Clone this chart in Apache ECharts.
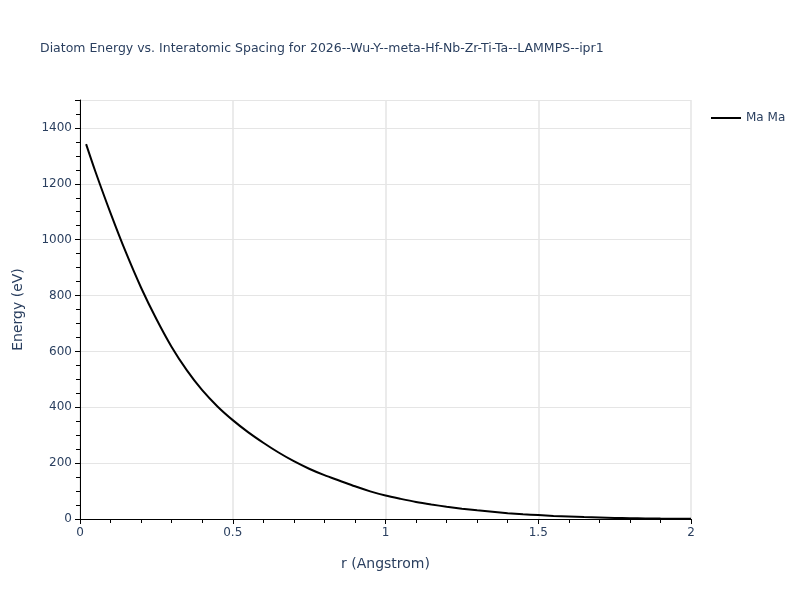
<!DOCTYPE html>
<html lang="en" style="width: 100%;height:100%">
    <head>
        <meta charset="UTF-8">
        <title>Diatom Energy</title>
        <script src="https://cdn.jsdelivr.net/npm/echarts@6/dist/echarts.min.js"></script>
    </head>
    <body style="width: 100%;height:100%;margin:0">
        <div id="chart" style="width: 800px;height:600px"></div>
        <script>
            // r values (Angstrom) and energies (eV)
            const rList = [0.02, 0.05, 0.1, 0.15, 0.2, 0.25, 0.3, 0.35, 0.4, 0.45,
                           0.5, 0.55, 0.6, 0.65, 0.7, 0.75, 0.8, 0.85, 0.9, 0.95,
                           1.0, 1.05, 1.1, 1.15, 1.2, 1.25, 1.3, 1.35, 1.4, 1.45,
                           1.5, 1.55, 1.6, 1.65, 1.7, 1.75, 1.8, 1.85, 1.9, 1.95, 2.0];
            const energyList = [1342, 1245, 1095, 955, 828, 716, 616, 532, 461, 403,
                                354, 311, 273, 238, 207, 180, 157, 137, 117, 99,
                                84, 72, 61, 52, 44, 37, 31, 26, 21, 17,
                                14, 11, 9, 7, 5.5, 4, 3, 2.2, 1.5, 1, 0.5];
            const seriesName = 'Ma Ma';

            const points = [];
            for (let i = 0; i < rList.length; i++) {
                points.push([rList[i], energyList[i]]);
            }

            const labelColor = '#2a3f5f';
            const font = '"DejaVu Sans", Verdana, sans-serif';

            const myChart = echarts.init(document.getElementById('chart'));

            const option = {
                backgroundColor: '#ffffff',
                title: {
                    text: 'Diatom Energy vs. Interatomic Spacing for 2026--Wu-Y--meta-Hf-Nb-Zr-Ti-Ta--LAMMPS--ipr1',
                    left: 35,
                    top: 37,
                    textStyle: {
                        fontSize: 12.5,
                        fontWeight: 'normal',
                        color: labelColor,
                        fontFamily: font
                    }
                },
                legend: {
                    data: [seriesName],
                    left: 706,
                    top: 107,
                    itemWidth: 30,
                    itemHeight: 2,
                    icon: 'rect',
                    itemGap: 5,
                    textStyle: {
                        fontSize: 12,
                        color: labelColor,
                        fontFamily: font
                    }
                },
                grid: {
                    left: 80,
                    right: 109,
                    top: 100,
                    bottom: 81
                },
                xAxis: {
                    type: 'value',
                    min: 0,
                    max: 2,
                    interval: 0.5,
                    name: 'r (Angstrom)',
                    nameLocation: 'middle',
                    nameGap: 38,
                    nameTextStyle: {
                        fontSize: 14,
                        color: labelColor,
                        fontFamily: font
                    },
                    axisLine: {
                        show: true,
                        onZero: false,
                        lineStyle: { color: '#000000', width: 1 }
                    },
                    axisTick: {
                        show: true,
                        length: 5,
                        lineStyle: { color: '#000000' }
                    },
                    minorTick: {
                        show: true,
                        splitNumber: 5,
                        length: 4,
                        lineStyle: { color: '#000000' }
                    },
                    axisLabel: {
                        fontSize: 12,
                        color: labelColor,
                        fontFamily: font,
                        margin: 8
                    },
                    splitLine: {
                        show: true,
                        lineStyle: { color: '#e5e5e5', width: 1.5 }
                    }
                },
                yAxis: {
                    type: 'value',
                    min: 0,
                    max: 1500,
                    interval: 200,
                    name: 'Energy (eV)',
                    nameLocation: 'middle',
                    nameGap: 55,
                    nameTextStyle: {
                        fontSize: 14,
                        color: labelColor,
                        fontFamily: font
                    },
                    axisLine: {
                        show: true,
                        lineStyle: { color: '#000000', width: 1 }
                    },
                    axisTick: {
                        show: true,
                        length: 5,
                        lineStyle: { color: '#000000' }
                    },
                    minorTick: {
                        show: true,
                        splitNumber: 4,
                        length: 4,
                        lineStyle: { color: '#000000' }
                    },
                    axisLabel: {
                        fontSize: 12,
                        color: labelColor,
                        fontFamily: font,
                        margin: 8,
                        formatter: function (v) {
                            return v % 200 === 0 ? String(v) : '';
                        }
                    },
                    splitLine: {
                        show: true,
                        lineStyle: { color: '#e5e5e5', width: 1 }
                    }
                },
                series: [
                    {
                        name: seriesName,
                        type: 'line',
                        data: points,
                        showSymbol: false,
                        smooth: 0.3,
                        lineStyle: { color: '#000000', width: 2 },
                        itemStyle: { color: '#000000' }
                    }
                ]
            };

            myChart.setOption(option);
        </script>
    </body>
</html>
